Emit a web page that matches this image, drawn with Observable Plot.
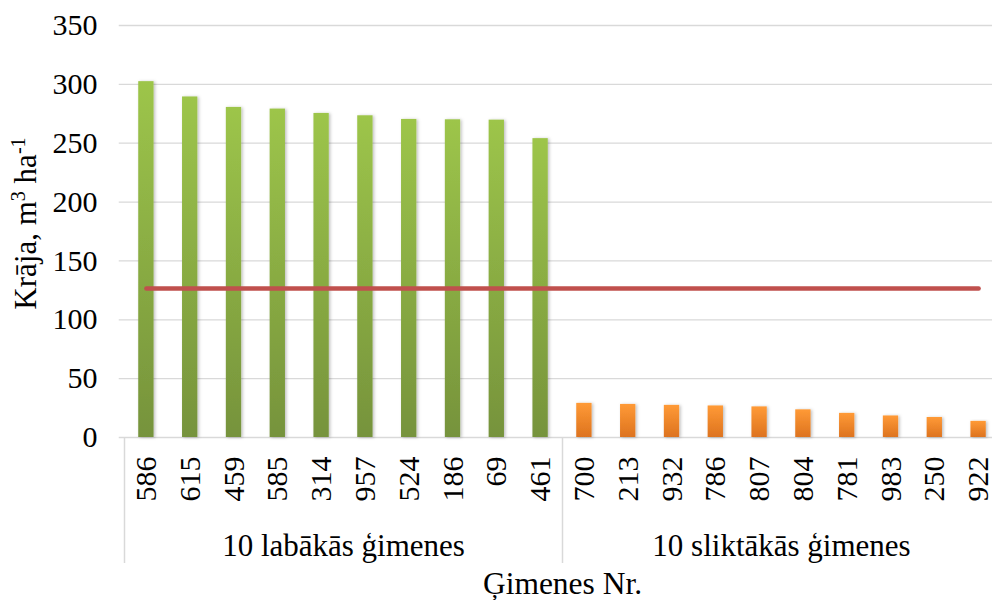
<!DOCTYPE html>
<html>
<head>
<meta charset="utf-8">
<script src="https://cdn.jsdelivr.net/npm/d3@7"></script>
<script src="https://cdn.jsdelivr.net/npm/@observablehq/plot@0.6"></script>
<style>
  html, body { margin: 0; padding: 0; background: #fff; overflow: hidden; }
  #chart { width: 992px; height: 600px; overflow: hidden; }
</style>
</head>
<body>
<div id="chart"></div>
<script>
// ---- data ----
const bestFamilies = ["586", "615", "459", "585", "314", "957", "524", "186", "69", "461"];
const bestValues = [302.3, 289.3, 280.4, 279, 275.3, 273.3, 270.2, 269.9, 269.6, 253.9];
const worstFamilies = ["700", "213", "932", "786", "807", "804", "781", "983", "250", "922"];
const worstValues = [29, 28.1, 27.3, 26.8, 26, 23.5, 20.5, 18.3, 17, 13.7];
const groupLabels = ["10 labākās ģimenes", "10 sliktākās ģimenes"];
const averageValue = 126.5;
const yTicks = [0, 50, 100, 150, 200, 250, 300, 350];
const xTitle = "Ģimenes Nr.";
const yTitle = "Krāja, m3 ha-1";

// ---- table ----
const rows = [
  ...bestFamilies.map((f, k) => ({family: f, value: bestValues[k], group: 0})),
  ...worstFamilies.map((f, k) => ({family: f, value: worstValues[k], group: 1}))
].map((d, i) => ({...d, i}));
const groups = groupLabels.map((label, g) => {
  const members = rows.filter(d => d.group === g);
  return {label, start: members[0].i - 0.5, end: members[members.length - 1].i + 0.5,
          mid: (members[0].i + members[members.length - 1].i) / 2};
});
const boundaries = [...new Set(groups.flatMap(g => [g.start, g.end]))];
const half = 0.175; // half bar width in band units

const FONT = "Liberation Serif";
const grid = "#d9d9d9";
const txt = (fs, extra) => ({fontSize: fs, fill: "#000", ...extra});

const plot = Plot.plot({
  width: 992,
  height: 600,
  marginTop: 25,
  marginBottom: 163,
  marginLeft: 124,
  style: {fontFamily: FONT, background: "#fff"},
  x: {type: "linear", domain: [-0.5, rows.length - 0.5], range: [124, 1000], axis: null},
  y: {domain: [0, 350], axis: null},
  marks: [
    Plot.ruleY(yTicks.filter(t => t > 0), {y: d => d, x1: -0.62, x2: rows.length - 0.5, stroke: grid, strokeWidth: 1.3}),
    Plot.ruleY([0], {x1: -0.62, x2: rows.length - 0.5, stroke: grid, strokeWidth: 1.5}),
    Plot.ruleX(boundaries, {x: d => d, y1: 0, y2: 0, insetBottom: -126, stroke: grid, strokeWidth: 1.5}),
    Plot.rectY(rows.filter(d => d.group === 0), {x1: d => d.i - half, x2: d => d.i + half, y: "value", fill: "url(#gradGreen)"}),
    Plot.rectY(rows.filter(d => d.group === 1), {x1: d => d.i - half, x2: d => d.i + half, y: "value", fill: "url(#gradOrange)"}),
    Plot.line(rows, {x: "i", y: () => averageValue, stroke: "#c0504d", strokeWidth: 4.5, strokeLinecap: "round"}),
    Plot.text(yTicks, txt(30, {y: d => d, frameAnchor: "left", dx: -27, textAnchor: "end", text: d => String(d)})),
    Plot.text(rows, txt(30, {x: "i", y: 0, text: "family", rotate: -90, textAnchor: "end", dy: 19})),
    Plot.text(groups, txt(31, {x: "mid", y: 0, text: "label", dy: 109})),
    Plot.text([xTitle], txt(31.5, {x: (rows.length - 1) / 2, y: 0, text: d => d, dy: 146})),
    Plot.text([yTitle], txt(31, {frameAnchor: "left", textAnchor: "middle", dx: -98, dy: -8, rotate: -90, text: d => d}))
  ]
});

const svg = d3.select(plot);
svg.selectAll("text").attr("font-family", FONT).style("font-family", `'${FONT}', serif`);

const defs = svg.insert("defs", ":first-child");
function grad(id, top, bottom) {
  const g = defs.append("linearGradient").attr("id", id).attr("x1", 0).attr("y1", 0).attr("x2", 0).attr("y2", 1);
  g.append("stop").attr("offset", "0%").attr("stop-color", top);
  g.append("stop").attr("offset", "100%").attr("stop-color", bottom);
}
grad("gradGreen", "#9dc54a", "#76933c");
grad("gradOrange", "#ff9a36", "#dd731f");
const shadow = defs.append("filter").attr("id", "barShadow").attr("x", "-50%").attr("y", "-10%").attr("width", "200%").attr("height", "120%");
shadow.append("feDropShadow").attr("dx", 1.5).attr("dy", 0.5).attr("stdDeviation", 1.5)
  .attr("flood-color", "#000").attr("flood-opacity", 0.25);
svg.selectAll("rect").filter(function() {
  const f = this.getAttribute("fill") || (this.parentNode && this.parentNode.getAttribute("fill")) || "";
  return f.startsWith("url(");
}).attr("filter", "url(#barShadow)");

svg.selectAll("text").filter(function() { return this.textContent === yTitle; }).each(function() {
  const t = d3.select(this);
  t.text(null);
  t.append("tspan").text("Krāja, m");
  t.append("tspan").attr("baseline-shift", "super").attr("font-size", "0.65em").text("3");
  t.append("tspan").text(" ha");
  t.append("tspan").attr("baseline-shift", "super").attr("font-size", "0.65em").text("-1");
});

document.getElementById("chart").appendChild(plot);
</script>
</body>
</html>
